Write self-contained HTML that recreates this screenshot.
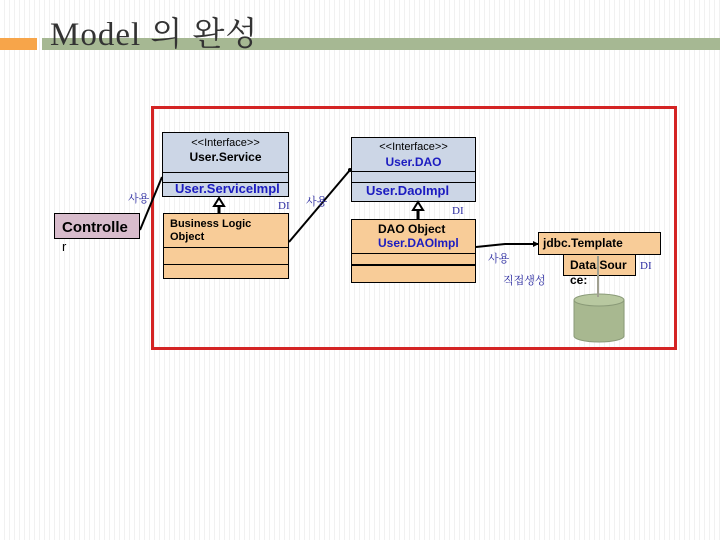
<!DOCTYPE html>
<html><head><meta charset="utf-8"><style>
body{margin:0}
#p{position:relative;width:720px;height:540px;overflow:hidden;background:#fff repeating-linear-gradient(90deg,#fff 0,#fff 4px,#f1f1f1 4px,#f1f1f1 5px);font-family:"Liberation Sans","Noto Sans CJK KR",sans-serif}
.a{position:absolute;box-sizing:border-box}
.t{position:absolute;white-space:nowrap;font-size:12px}
.ko{font-family:"Liberation Serif","Noto Serif CJK SC","NanumGothic",serif;color:#2a2aa0;font-size:11px}
</style></head><body><div id="p">
<div class="a" style="left:0;top:38px;width:37px;height:12px;background:#f7a54a"></div>
<div class="a" style="left:42px;top:38px;width:678px;height:12px;background:#a6b893"></div>
<div class="t" style="left:50px;top:15px;font-family:'Liberation Serif','Noto Serif CJK SC',serif;font-size:33px;letter-spacing:1px;color:#333;line-height:40px">Model 의 완성</div>
<div class="a" style="left:151px;top:106px;width:526px;height:244px;border:3px solid #d42424"></div>

<div class="a" style="left:162px;top:132px;width:127px;height:65px;background:#ccd6e6;border:1px solid #000"></div>
<div class="a" style="left:162px;top:172px;width:127px;height:1px;background:#000"></div>
<div class="a" style="left:162px;top:182px;width:127px;height:1px;background:#000"></div>
<div class="t" style="left:162px;width:127px;text-align:center;top:137px;font-size:11px">&lt;&lt;Interface&gt;&gt;</div>
<div class="t" style="left:162px;width:127px;text-align:center;top:150px;font-weight:bold">User.Service</div>
<div class="t" style="left:175px;top:181px;font-weight:bold;color:#1c1cc0;font-size:13px">User.ServiceImpl</div>

<div class="a" style="left:163px;top:213px;width:126px;height:66px;background:#f8cc98;border:1px solid #000"></div>
<div class="a" style="left:163px;top:247px;width:126px;height:1px;background:#000"></div>
<div class="a" style="left:163px;top:264px;width:126px;height:1px;background:#000"></div>
<div class="t" style="left:170px;top:218px;font-weight:bold;font-size:11px;line-height:13px">Business Logic<br>Object</div>

<div class="a" style="left:54px;top:213px;width:86px;height:26px;background:#d8bccc;border:1px solid #000"></div>
<div class="t" style="left:62px;top:219px;font-weight:bold;font-size:15px">Controlle</div>
<div class="t" style="left:62px;top:239px;font-size:13px">r</div>

<div class="a" style="left:351px;top:137px;width:125px;height:65px;background:#ccd6e6;border:1px solid #000"></div>
<div class="a" style="left:351px;top:171px;width:125px;height:1px;background:#000"></div>
<div class="a" style="left:351px;top:182px;width:125px;height:1px;background:#000"></div>
<div class="t" style="left:351px;width:125px;text-align:center;top:141px;font-size:11px">&lt;&lt;Interface&gt;&gt;</div>
<div class="t" style="left:351px;width:125px;text-align:center;top:155px;font-weight:bold;color:#1c1cc0">User.DAO</div>
<div class="t" style="left:366px;top:183px;font-weight:bold;color:#1c1cc0;font-size:13px">User.DaoImpl</div>

<div class="a" style="left:351px;top:219px;width:125px;height:64px;background:#f8cc98;border:1px solid #000"></div>
<div class="a" style="left:351px;top:253px;width:125px;height:1px;background:#000"></div>
<div class="a" style="left:351px;top:264px;width:125px;height:2px;background:#000"></div>
<div class="t" style="left:378px;top:222px;font-weight:bold;font-size:12px">DAO Object</div>
<div class="t" style="left:378px;top:236px;font-weight:bold;font-size:12px;color:#1c1cc0">User.DAOImpl</div>

<div class="a" style="left:538px;top:232px;width:123px;height:23px;background:#f8cc98;border:1px solid #000"></div>
<div class="t" style="left:543px;top:236px;font-weight:bold;font-size:12px">jdbc.Template</div>
<div class="a" style="left:563px;top:254px;width:73px;height:22px;background:#f8cc98;border:1px solid #000"></div>
<div class="t" style="left:570px;top:258px;font-weight:bold;font-size:12px">Data.Sour</div>
<div class="t" style="left:570px;top:273px;font-weight:bold;font-size:12px">ce:</div>

<svg class="a" style="left:0;top:0" width="720" height="540">
<line x1="140" y1="230" x2="162" y2="177" stroke="#000" stroke-width="2"/>
<line x1="289" y1="242" x2="350" y2="170" stroke="#000" stroke-width="2"/>
<circle cx="350" cy="170" r="2"/>
<polyline points="476,247 505,244 538,244" fill="none" stroke="#000" stroke-width="2"/>
<polygon points="533,241 539,244 533,247"/>
<line x1="219" y1="213" x2="219" y2="204" stroke="#000" stroke-width="3"/>
<polygon points="214,206 219,198 224,206" fill="#fff" stroke="#000" stroke-width="2"/>
<line x1="418" y1="219" x2="418" y2="208" stroke="#000" stroke-width="3"/>
<polygon points="413,210 418,202 423,210" fill="#fff" stroke="#000" stroke-width="2"/>
<path d="M574,300 L574,336 A25,6 0 0 0 624,336 L624,300" fill="#a8b890" stroke="#8a9a78"/>
<ellipse cx="599" cy="300" rx="25" ry="6" fill="#b8c8a0" stroke="#8a9a78"/>
<line x1="598" y1="297" x2="598" y2="256" stroke="#a0a090" stroke-width="2"/>
</svg>
<div class="t ko" style="left:128px;top:190px">사용</div>
<div class="t ko" style="left:278px;top:200px">DI</div>
<div class="t ko" style="left:306px;top:193px">사용</div>
<div class="t ko" style="left:452px;top:205px">DI</div>
<div class="t ko" style="left:488px;top:250px">사용</div>
<div class="t ko" style="left:503px;top:272px">직접생성</div>
<div class="t ko" style="left:640px;top:260px">DI</div>
</div></body></html>
